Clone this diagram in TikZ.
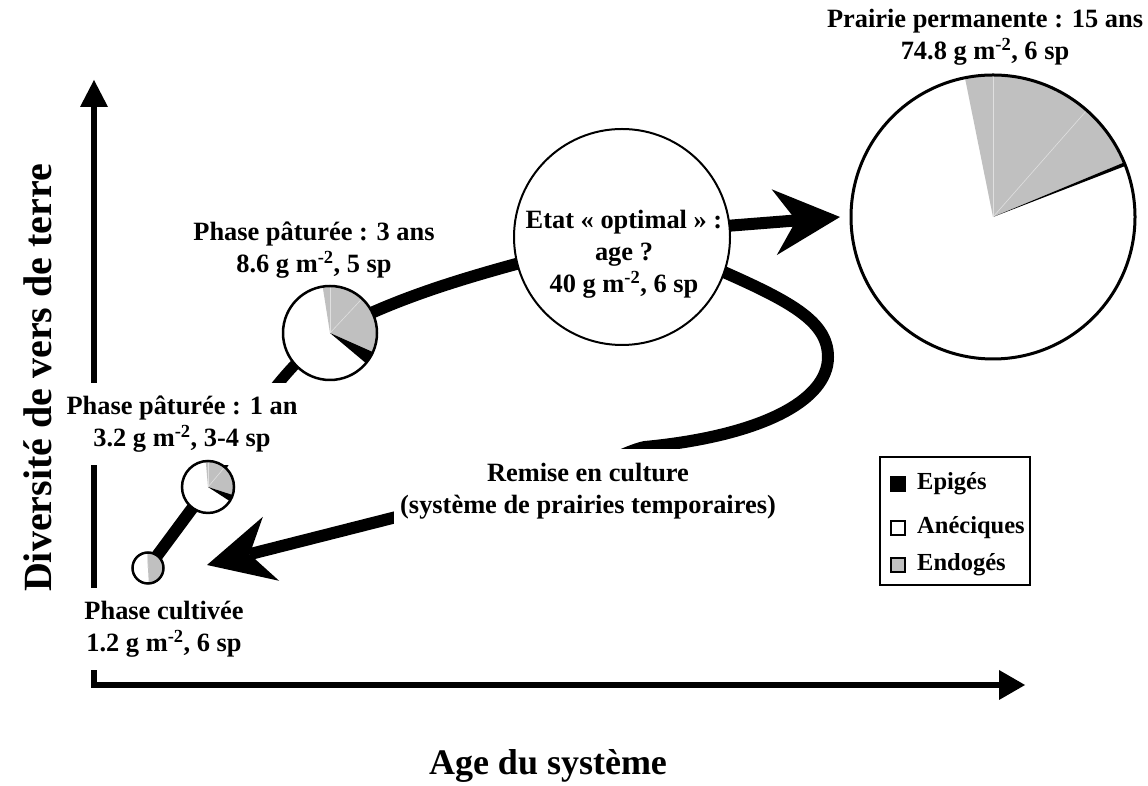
\documentclass[tikz,border=0pt]{standalone}
\usepackage{fontspec}
\setmainfont{Liberation Serif}
\usetikzlibrary{arrows.meta,calc}
\definecolor{endo}{HTML}{C0C0C0}
\definecolor{faintc}{HTML}{E0E0E0}
\pgfdeclarelayer{bg}
\pgfsetlayers{bg,main}
\newcommand\pieslice[5]{\fill[#5] (#1) -- ++(#3:#2) arc[start angle=#3, end angle=#4, radius=#2] -- cycle;}
\begin{document}
\begin{tikzpicture}[x=1pt,y=1pt,
  lab/.style={font=\bfseries\fontsize{26.4}{32}\selectfont, align=center, inner sep=0pt},
  labw/.style={lab, fill=white, inner xsep=6pt, inner ysep=13pt},
  axisline/.style={line width=6pt, {Triangle[length=27pt,width=28pt,line width=0pt]}-{Triangle[length=26pt,width=30pt,line width=0pt]}},
  conn/.style={line width=12pt},
  bigarrow/.style={line width=12pt, -{Stealth[length=66pt,width=66pt,inset=22pt,line width=0pt]}},
  piebase/.style={circle, inner sep=0pt, outer sep=0pt, fill=white},
  pieedge/.style={line width=2.5pt},
  faint/.style={faintc, line width=0.6pt},
  sq/.style={draw, line width=2pt, minimum size=14pt, inner sep=0pt},
  legtext/.style={font=\bfseries\fontsize{24.5}{28}\selectfont, inner sep=0pt, anchor=west}
]
\useasboundingbox (0,0) rectangle (1148,786);

% ---- axes ----
\coordinate (O) at (94,101);
\coordinate (ytop) at (94,706);
\coordinate (xend) at (1025,101);
\begin{pgfonlayer}{bg}
\draw[axisline] (ytop) -- (O) -- (xend);
\end{pgfonlayer}
\node[rotate=90, font=\bfseries\fontsize{40}{44}\selectfont, inner sep=0pt] (ylab) at (38,408) {Diversité de vers de terre};
\node[font=\bfseries\fontsize{36}{40}\selectfont, anchor=base, inner sep=0pt] (xlab) at (548,11) {Age du système};

% ---- node placement ----
\node[piebase, minimum size=31pt] (cult) at (148,218) {};
\node[piebase, minimum size=52pt] (p1) at (208,299) {};
\node[piebase, minimum size=94pt] (p3) at (330,453) {};
\node[circle, draw, line width=2pt, fill=white, minimum size=216pt, inner sep=0pt, outer sep=0pt] (opt) at (622,549) {};
\node[piebase, minimum size=284pt] (prairie) at (993,569) {};
\node[lab] (opttext) at (624,532) {Etat « optimal » :\\age ?\\40 g m\textsuperscript{-2}, 6 sp};

% ---- connectors ----
\coordinate (ptip) at (840,569);
\coordinate (rtip) at (207,221);
\begin{pgfonlayer}{bg}
\draw[conn] (cult.center) -- (p1.center);
\draw[conn, line width=11pt] (p1.center) .. controls (245,356) and (275,411) .. (p3.center);
\draw[conn] (p3.center) .. controls (400,490) and (470,512) .. (opt.center);
\draw[bigarrow, shorten <=-20pt] (opt.6) -- (ptip);
\draw[bigarrow, shorten <=-10pt] (opt.-19.7) .. controls (790,485) and (828,465) .. (828,429)
   .. controls (828,385) and (760,350) .. (645,339)
   .. controls (615,333) and (580,300) .. (420,275) -- (rtip);
\end{pgfonlayer}

% ---- labels ----
\node[lab] (prairielab) at (985,749) {Prairie permanente : 15 ans\\74.8 g m\textsuperscript{-2}, 6 sp};
\node[lab] (p3lab) at (314,536) {Phase pâturée : 3 ans\\8.6 g m\textsuperscript{-2}, 5 sp};
\node[labw] (p1lab) at (182,362) {Phase pâturée : 1 an\\3.2 g m\textsuperscript{-2}, 3-4 sp};
\node[labw] (cultlab) at (164,157) {Phase cultivée\\1.2 g m\textsuperscript{-2}, 6 sp};
\node[labw, inner ysep=14pt] (remise) at (588,295) {Remise en culture\\(système de prairies temporaires)};

% ---- pies ----
\pieslice{cult.center}{15.5pt}{-87}{93}{endo}
\draw[faint] (cult.center) -- ++(93:15.5pt);
\draw[pieedge] (cult.center) circle[radius=15.5pt];

\pieslice{p1.center}{26pt}{-18}{95}{endo}
\pieslice{p1.center}{26pt}{-33}{-18}{black}
\draw[faint] (p1.center) -- ++(90:26pt);
\draw[faint] (p1.center) -- ++(50:26pt);
\draw[pieedge] (p1.center) circle[radius=26pt];

\pieslice{p3.center}{47pt}{-24}{99}{endo}
\pieslice{p3.center}{47pt}{-40}{-24}{black}
\draw[faint] (p3.center) -- ++(90:47pt);
\draw[faint] (p3.center) -- ++(47:47pt);
\draw[pieedge] (p3.center) circle[radius=47pt];

\pieslice{prairie.center}{142pt}{22.6}{101.4}{endo}
\pieslice{prairie.center}{142pt}{21.1}{22.6}{black}
\draw[faint] (prairie.center) -- ++(90:142pt);
\draw[faint] (prairie.center) -- ++(48.7:142pt);
\draw[pieedge, line width=3pt] (prairie.center) circle[radius=142pt];

% ---- legend ----
\node[draw, line width=2pt, minimum width=150pt, minimum height=128pt, inner sep=0pt] (legend) at (955,265) {};
\node[sq, fill=black] (sqE) at (898,302) {};
\node[legtext] (tE) at (917,302) {Epigés};
\node[sq, fill=white] (sqA) at (898,258) {};
\node[legtext] (tA) at (917,258) {Anéciques};
\node[sq, fill=endo] (sqN) at (898,221) {};
\node[legtext] (tN) at (917,221) {Endogés};
\end{tikzpicture}
\end{document}
